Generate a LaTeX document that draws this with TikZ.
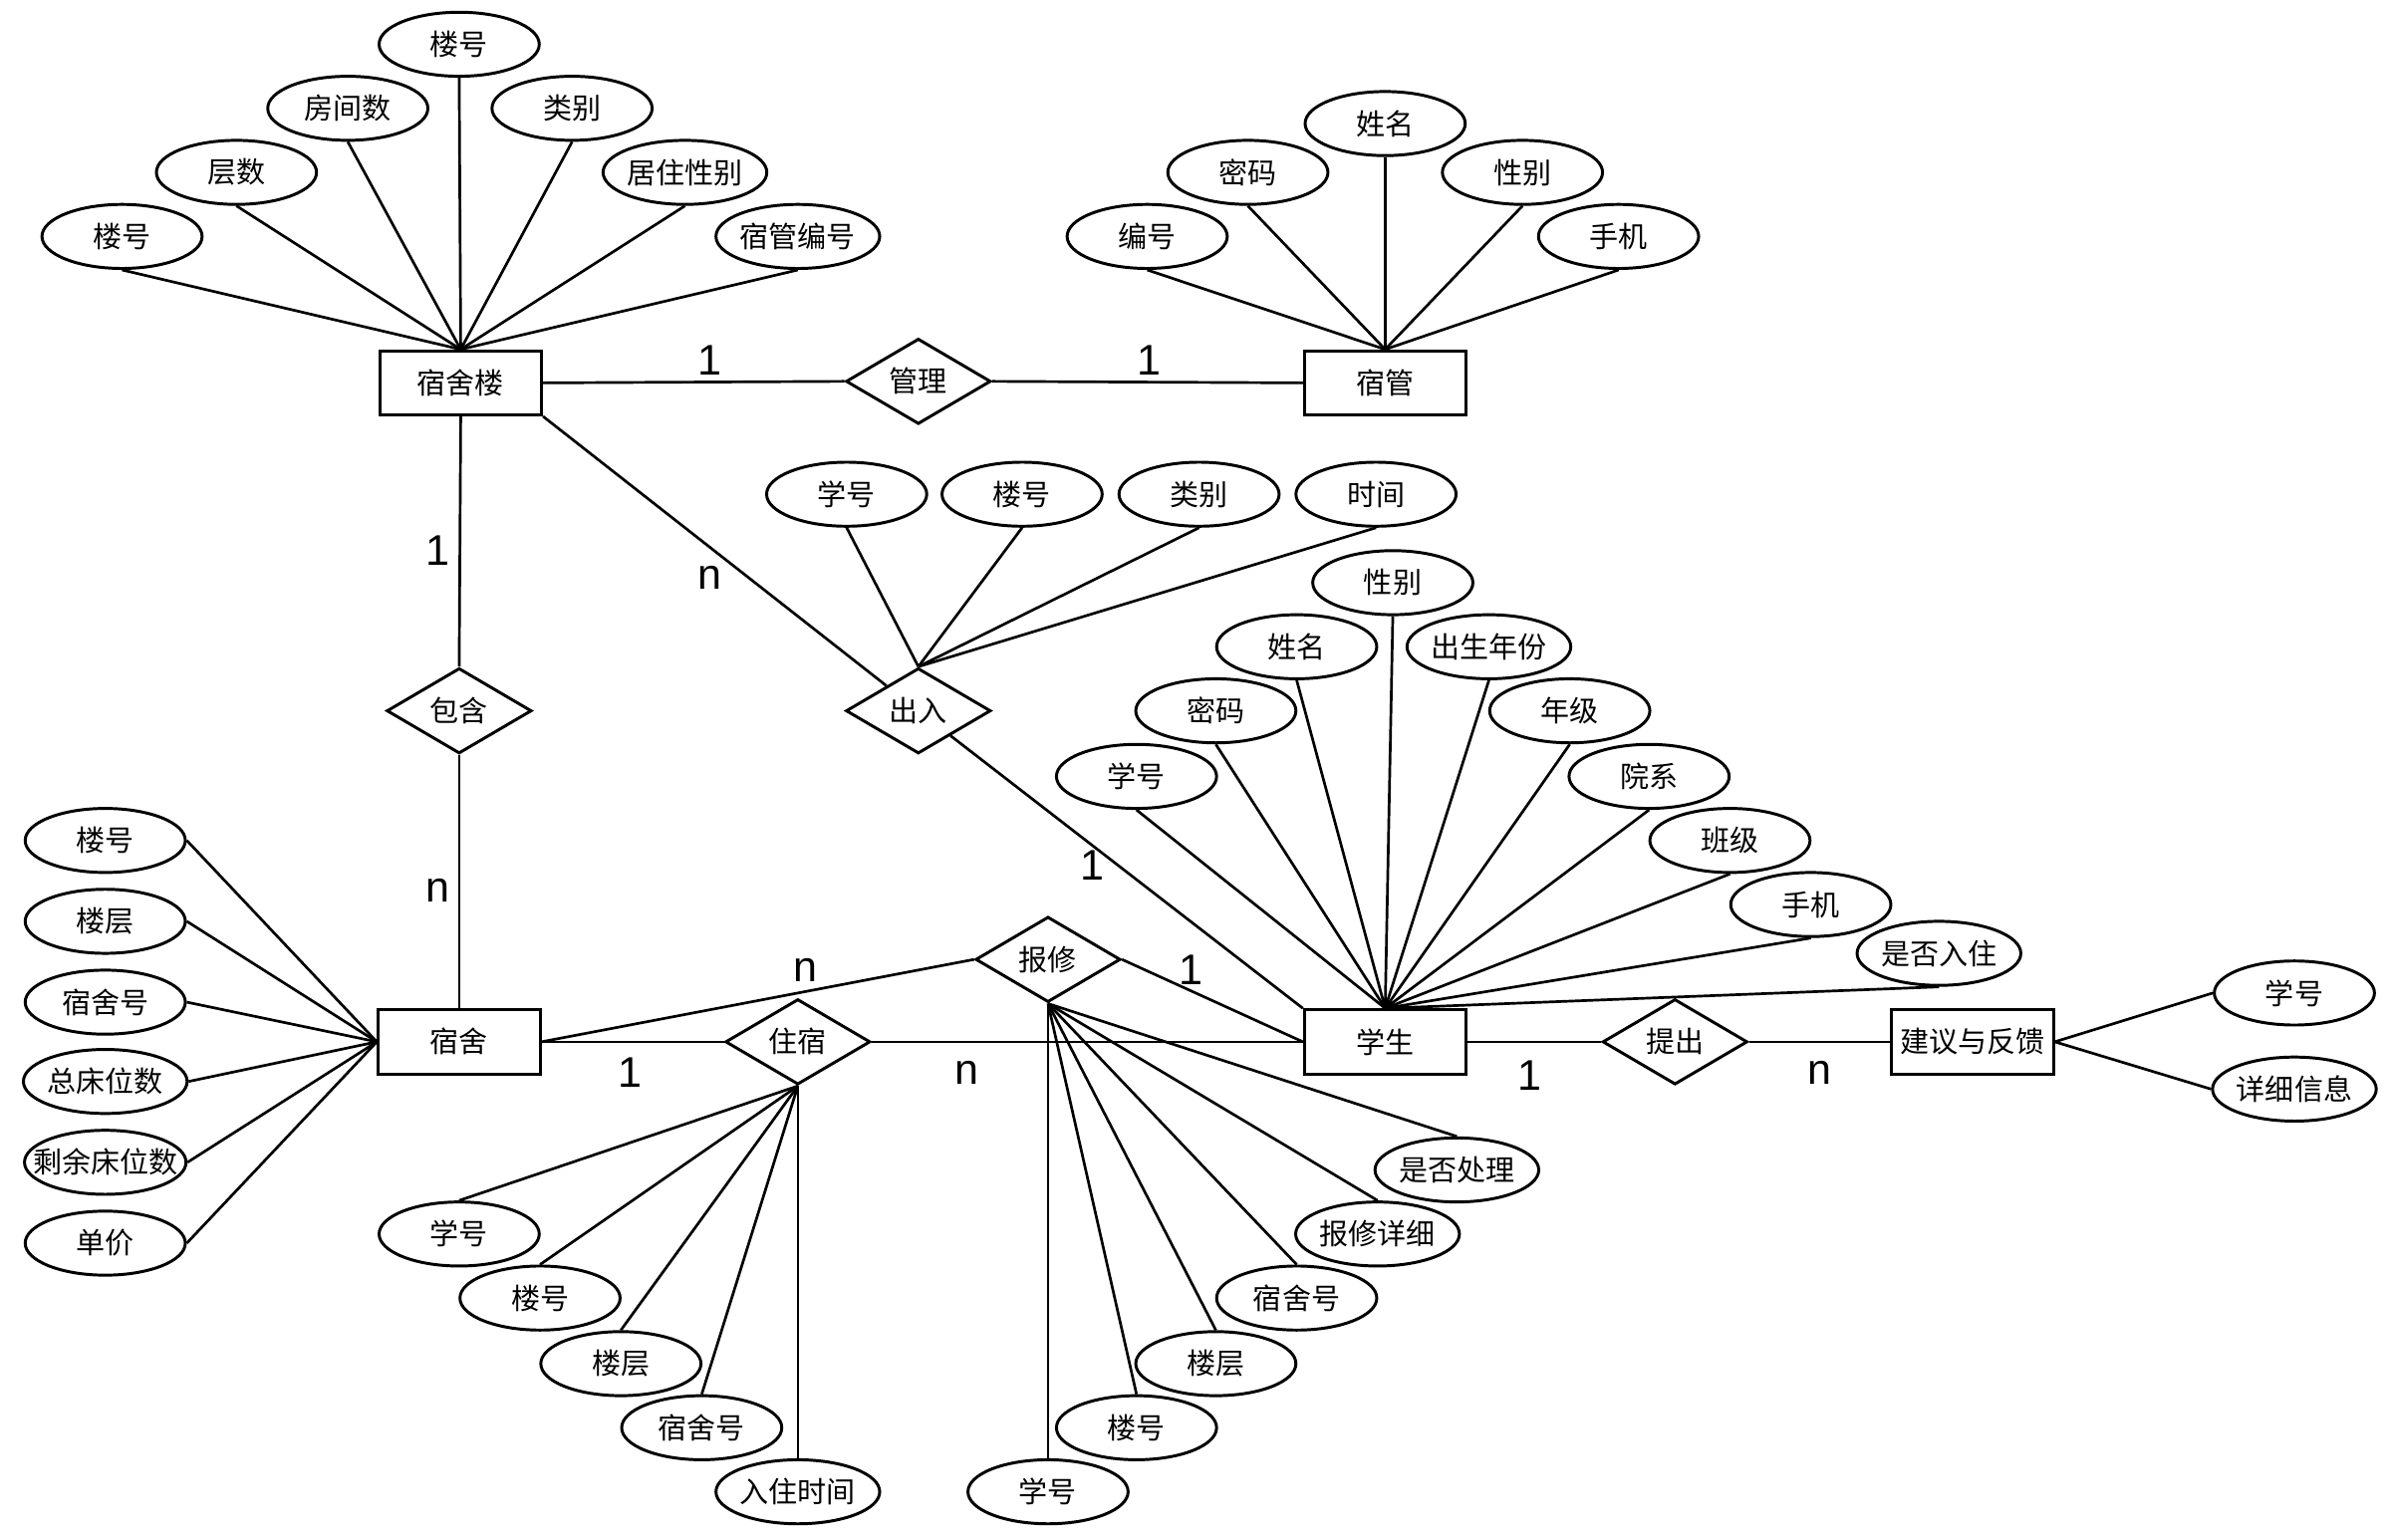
\documentclass[tikz,border=0pt]{standalone}
\usepackage{fontspec}
\setmainfont{Liberation Sans}
\newfontfamily\cjk{Noto Sans CJK SC}
\usetikzlibrary{shapes,shapes.geometric}

\begin{document}
\begin{tikzpicture}[x=0.02cm,y=-0.02cm,
    entity/.style={rectangle, draw, line width=1.1pt, fill=white,
                   minimum width=2.12cm, minimum height=0.84cm, inner sep=0.1cm,
                   font=\cjk\fontsize{10.8pt}{13pt}\selectfont},
    relation/.style={diamond, draw, line width=1.1pt, fill=white, aspect=1.7,
                     minimum width=1.9cm, minimum height=1.12cm, inner sep=0pt,
                     font=\cjk\fontsize{10.8pt}{13pt}\selectfont},
    attr/.style={ellipse, draw, line width=1.1pt, fill=white,
                 minimum width=2.1cm, minimum height=0.84cm, inner sep=0pt,
                 font=\cjk\fontsize{10.8pt}{13pt}\selectfont},
    card/.style={font=\fontsize{16pt}{19pt}\selectfont, inner sep=0pt}]

      \useasboundingbox (0,0) rectangle (1568,1009);

      % entities
      \node[entity] (ssl) at (302,251) {宿舍楼};
      \node[entity] (sg) at (908,251) {宿管};
      \node[entity] (ss) at (301,683) {宿舍};
      \node[entity] (xs) at (908,683) {学生};
      \node[entity] (jy) at (1293,683) {建议与反馈};

      % relations
      \node[relation] (gl) at (602,250) {管理};
      \node[relation] (bh) at (301,466) {包含};
      \node[relation] (cr) at (602,466) {出入};
      \node[relation] (bx) at (687,629) {报修};
      \node[relation] (zs) at (523,683) {住宿};
      \node[relation] (tc) at (1098,683) {提出};

      % attributes of 宿舍楼
      \node[attr] (ssl1) at (301,29) {楼号};
      \node[attr] (ssl2) at (228,71) {房间数};
      \node[attr] (ssl3) at (375,71) {类别};
      \node[attr] (ssl4) at (155,113) {层数};
      \node[attr] (ssl5) at (449,113) {居住性别};
      \node[attr] (ssl6) at (80,155) {楼号};
      \node[attr] (ssl7) at (523,155) {宿管编号};

      % attributes of 宿管
      \node[attr] (sg1) at (908,81) {姓名};
      \node[attr] (sg2) at (818,113) {密码};
      \node[attr] (sg3) at (998,113) {性别};
      \node[attr] (sg4) at (752,155) {编号};
      \node[attr] (sg5) at (1061,155) {手机};

      % attributes of 出入
      \node[attr] (cr1) at (555,324) {学号};
      \node[attr] (cr2) at (670,324) {楼号};
      \node[attr] (cr3) at (786,324) {类别};
      \node[attr] (cr4) at (902,324) {时间};

      % attributes of 学生
      \node[attr] (xs1) at (913,382) {性别};
      \node[attr] (xs2) at (850,424) {姓名};
      \node[attr] (xs3) at (976,424) {出生年份};
      \node[attr] (xs4) at (797,466) {密码};
      \node[attr] (xs5) at (1029,466) {年级};
      \node[attr] (xs6) at (745,509) {学号};
      \node[attr] (xs7) at (1081,509) {院系};
      \node[attr] (xs8) at (1134,551) {班级};
      \node[attr] (xs9) at (1187,593) {手机};
      \node[attr] (xs10) at (1271,625) {是否入住};

      % attributes of 宿舍
      \node[attr] (ss1) at (69,551) {楼号};
      \node[attr] (ss2) at (69,604) {楼层};
      \node[attr] (ss3) at (69,657) {宿舍号};
      \node[attr] (ss4) at (69,709) {总床位数};
      \node[attr, inner xsep=-0.2cm] (ss5) at (69,762) {剩余床位数};
      \node[attr] (ss6) at (69,815) {单价};

      % attributes of 住宿
      \node[attr] (zs1) at (301,809) {学号};
      \node[attr] (zs2) at (354,851) {楼号};
      \node[attr] (zs3) at (407,894) {楼层};
      \node[attr] (zs4) at (460,936) {宿舍号};
      \node[attr] (zs5) at (523,978) {入住时间};

      % attributes of 报修
      \node[attr] (bx1) at (687,978) {学号};
      \node[attr] (bx2) at (745,936) {楼号};
      \node[attr] (bx3) at (797,894) {楼层};
      \node[attr] (bx4) at (850,851) {宿舍号};
      \node[attr] (bx5) at (903,809) {报修详细};
      \node[attr] (bx6) at (955,767) {是否处理};

      % attributes of 建议与反馈
      \node[attr] (jy1) at (1504,651) {学号};
      \node[attr] (jy2) at (1504,714) {详细信息};

      % cardinalities
      \node[card] (c1) at (465,236) {1};
      \node[card] (c2) at (753,236) {1};
      \node[card] (c3) at (287,361) {1};
      \node[card] (c4) at (287,584) {n};
      \node[card] (c5) at (465,379) {n};
      \node[card] (c6) at (716,567) {1};
      \node[card] (c7) at (528,636) {n};
      \node[card] (c8) at (781,636) {1};
      \node[card] (c9) at (413,703) {1};
      \node[card] (c10) at (634,703) {n};
      \node[card] (c11) at (1003,705) {1};
      \node[card] (c12) at (1193,703) {n};

      \path[every edge/.style={draw, line width=1pt}]
      % relation paths
      (ssl.east) edge (gl.west)
      (gl.east) edge (sg.west)
      (ssl.south) edge (bh.north)
      (bh.south) edge (ss.north)
      (ssl.south east) edge (cr)
      (cr) edge (xs.north west)
      (ss.east) edge (zs.west)
      (zs.east) edge (xs.west)
      (ss.east) edge (bx.west)
      (bx.east) edge (xs.west)
      (xs.east) edge (tc.west)
      (tc.east) edge (jy.west)
      % 宿舍楼 attributes
      (ssl1.south) edge (ssl.north)
      (ssl2.south) edge (ssl.north)
      (ssl3.south) edge (ssl.north)
      (ssl4.south) edge (ssl.north)
      (ssl5.south) edge (ssl.north)
      (ssl6.south) edge (ssl.north)
      (ssl7.south) edge (ssl.north)
      % 宿管 attributes
      (sg1.south) edge (sg.north)
      (sg2.south) edge (sg.north)
      (sg3.south) edge (sg.north)
      (sg4.south) edge (sg.north)
      (sg5.south) edge (sg.north)
      % 出入 attributes
      (cr1.south) edge (cr.north)
      (cr2.south) edge (cr.north)
      (cr3.south) edge (cr.north)
      (cr4.south) edge (cr.north)
      % 学生 attributes
      (xs1.south) edge (xs.north)
      (xs2.south) edge (xs.north)
      (xs3.south) edge (xs.north)
      (xs4.south) edge (xs.north)
      (xs5.south) edge (xs.north)
      (xs6.south) edge (xs.north)
      (xs7.south) edge (xs.north)
      (xs8.south) edge (xs.north)
      (xs9.south) edge (xs.north)
      (xs10.south) edge (xs.north)
      % 宿舍 attributes
      (ss1.east) edge (ss.west)
      (ss2.east) edge (ss.west)
      (ss3.east) edge (ss.west)
      (ss4.east) edge (ss.west)
      (ss5.east) edge (ss.west)
      (ss6.east) edge (ss.west)
      % 住宿 attributes
      (zs1.north) edge (zs.south)
      (zs2.north) edge (zs.south)
      (zs3.north) edge (zs.south)
      (zs4.north) edge (zs.south)
      (zs5.north) edge (zs.south)
      % 报修 attributes
      (bx1.north) edge (bx.south)
      (bx2.north) edge (bx.south)
      (bx3.north) edge (bx.south)
      (bx4.north) edge (bx.south)
      (bx5.north) edge (bx.south)
      (bx6.north) edge (bx.south)
      % 建议与反馈 attributes
      (jy1.west) edge (jy.east)
      (jy2.west) edge (jy.east);

\end{tikzpicture}
\end{document}
